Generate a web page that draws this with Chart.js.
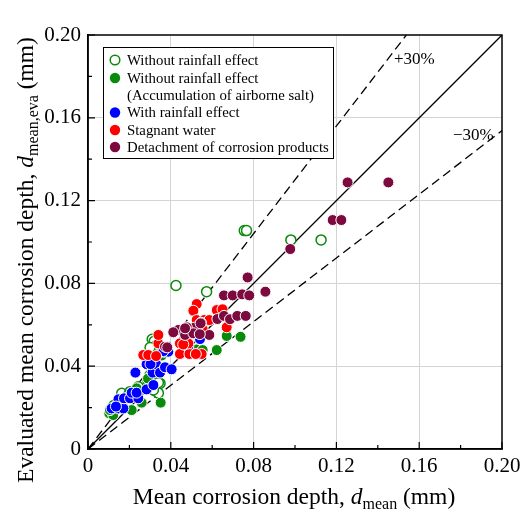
<!DOCTYPE html>
<html>
<head>
<meta charset="utf-8">
<script src="https://cdn.jsdelivr.net/npm/chart.js@4/dist/chart.umd.min.js"></script>
<style>
    html, body { margin: 0; padding: 0; background: #ffffff; }
    #wrap { width: 530px; height: 512px; }
</style>
</head>
<body>
<div id="wrap"><canvas id="chart" width="530" height="512"></canvas></div>
<script>
// ===== DATA =====
const tickValues = [0, 0.04, 0.08, 0.12, 0.16, 0.20];
const tickLabels = ["0", "0.04", "0.08", "0.12", "0.16", "0.20"];
const minorTicks = [0.02, 0.06, 0.10, 0.14, 0.18];

// [d_mean, d_mean,eva]
const withoutRainOpen = [
    [0.0425, 0.079], [0.0573, 0.076], [0.0755, 0.1055], [0.0766, 0.1055],
    [0.098, 0.101], [0.1126, 0.101], [0.031, 0.053], [0.032, 0.052],
    [0.033, 0.050], [0.030, 0.049], [0.0307, 0.0349], [0.0332, 0.0333],
    [0.0348, 0.0317], [0.029, 0.033], [0.034, 0.032], [0.0325, 0.028],
    [0.0163, 0.0269], [0.0203, 0.0277], [0.0243, 0.0301], [0.0195, 0.026],
    [0.030, 0.0357], [0.034, 0.027], [0.0316, 0.0285], [0.0125, 0.021]
];
const withoutRainSalt = [
    [0.0351, 0.0224], [0.0622, 0.0478], [0.067, 0.0546], [0.0737, 0.0542],
    [0.0525, 0.0481], [0.0554, 0.0478], [0.0103, 0.0172], [0.0122, 0.0164],
    [0.0211, 0.0188], [0.0259, 0.0224], [0.0235, 0.0293], [0.0356, 0.0452],
    [0.029, 0.034], [0.0106, 0.0188]
];
const withRain = [
    [0.0114, 0.0196], [0.0147, 0.0196], [0.0171, 0.0196], [0.0147, 0.024],
    [0.0174, 0.0245], [0.0203, 0.0245], [0.0243, 0.0245], [0.0211, 0.0272],
    [0.0235, 0.0272], [0.0283, 0.0288], [0.0316, 0.0309], [0.0229, 0.0369],
    [0.0283, 0.041], [0.0312, 0.0369], [0.0329, 0.041], [0.0348, 0.0369],
    [0.0372, 0.0395], [0.0404, 0.0385], [0.0302, 0.041], [0.0367, 0.047],
    [0.0388, 0.047], [0.0533, 0.0543], [0.0485, 0.0498], [0.0444, 0.051],
    [0.0541, 0.0531], [0.0364, 0.0473], [0.0453, 0.0518], [0.0135, 0.0205]
];
const stagnantWater = [
    [0.0525, 0.070], [0.0509, 0.0668], [0.0622, 0.0671], [0.065, 0.0675],
    [0.0525, 0.0623], [0.0561, 0.0623], [0.0586, 0.0623], [0.0444, 0.051],
    [0.034, 0.051], [0.0444, 0.0459], [0.049, 0.0459], [0.0549, 0.0459],
    [0.0267, 0.0454], [0.0291, 0.0454], [0.0485, 0.051], [0.067, 0.0588],
    [0.046, 0.0505], [0.034, 0.0551], [0.0329, 0.0449], [0.0521, 0.0459],
    [0.0512, 0.0578], [0.0554, 0.0578]
];
const detachment = [
    [0.1254, 0.1288], [0.1451, 0.1288], [0.1182, 0.1106], [0.1224, 0.1106],
    [0.0977, 0.0966], [0.0771, 0.0829], [0.0857, 0.076], [0.0657, 0.0742],
    [0.0699, 0.0742], [0.0745, 0.0747], [0.0779, 0.0742], [0.0625, 0.0628],
    [0.0657, 0.0643], [0.0686, 0.0627], [0.0721, 0.0643], [0.0762, 0.0643],
    [0.0546, 0.061], [0.0514, 0.0586], [0.0477, 0.0588], [0.0436, 0.0575],
    [0.0412, 0.0564], [0.0469, 0.0551], [0.0509, 0.0559], [0.0586, 0.0551],
    [0.054, 0.0555], [0.0372, 0.0494], [0.0383, 0.0491], [0.0469, 0.0583],
    [0.0544, 0.0607]
];

// reference lines: 1:1, +30%, -30%
const lineOneToOne = [[0, 0], [0.20, 0.20]];
const linePlus30 = [[0, 0], [0.1538, 0.20]];
const lineMinus30 = [[0, 0], [0.20, 0.1538]];

const GREEN = "#0a8a0a";
const BLUE = "#0000ff";
const RED = "#ff0000";
const MAROON = "#7d0a3e";
const SERIF = "'Liberation Serif', 'DejaVu Serif', serif";

const toXY = arr => arr.map(p => ({ x: p[0], y: p[1] }));

function scatterSet(label, data, color, order, open) {
    return {
        type: "scatter",
        label: label,
        data: toXY(data),
        order: order,
        pointRadius: open ? 5 : 5.5,
        pointBackgroundColor: open ? "#ffffff" : color,
        pointBorderColor: open ? color : "#ffffff",
        pointBorderWidth: open ? 1.5 : 1
    };
}

function refLine(data, dashed) {
    return {
        type: "line",
        data: toXY(data),
        order: 10,
        borderColor: "#000000",
        borderWidth: 1.3,
        borderDash: dashed ? [9, 5] : [],
        pointRadius: 0,
        fill: false
    };
}

/* ===== LEGEND + TEXT + TICKS PLUGIN ===== */
const legendRows = [
    { text: "Without rainfall effect", color: GREEN, open: true },
    { text: "Without rainfall effect", color: GREEN, open: false },
    { text: "(Accumulation of airborne salt)", color: null },
    { text: "With rainfall effect", color: BLUE, open: false },
    { text: "Stagnant water", color: RED, open: false },
    { text: "Detachment of corrosion products", color: MAROON, open: false }
];

function drawRich(ctx, parts) {
    let total = 0;
    parts.forEach(p => { ctx.font = p.font; p.w = ctx.measureText(p.text).width; total += p.w; });
    let x = -total / 2;
    parts.forEach(p => {
        ctx.font = p.font;
        ctx.fillText(p.text, x, p.dy || 0);
        x += p.w;
    });
}

const decorPlugin = {
    id: "decor",
    afterDraw(chart) {
        const ctx = chart.ctx;
        const a = chart.chartArea;
        const xs = chart.scales.x, ys = chart.scales.y;
        ctx.save();

        // frame
        ctx.strokeStyle = "#000";
        ctx.lineWidth = 1.5;
        ctx.strokeRect(a.left, a.top, a.right - a.left, a.bottom - a.top);

        // inward ticks
        ctx.lineWidth = 1.2;
        ctx.beginPath();
        tickValues.concat(minorTicks).forEach(v => {
            const len = tickValues.includes(v) ? 7 : 4;
            const px = xs.getPixelForValue(v);
            ctx.moveTo(px, a.bottom); ctx.lineTo(px, a.bottom - len);
            const py = ys.getPixelForValue(v);
            ctx.moveTo(a.left, py); ctx.lineTo(a.left + len, py);
        });
        ctx.stroke();

        // +/-30% labels
        ctx.fillStyle = "#000";
        ctx.textBaseline = "middle";
        ctx.textAlign = "left";
        ctx.font = "17px " + SERIF;
        ctx.fillText("+30%", 394, 60);
        ctx.fillText("\u221230%", 453, 136);

        // legend box
        ctx.fillStyle = "#fff";
        ctx.fillRect(103, 47, 230, 111);
        ctx.strokeStyle = "#000";
        ctx.lineWidth = 1;
        ctx.strokeRect(103.5, 47.5, 230, 111);
        ctx.font = "14.8px " + SERIF;
        const rowY = [60, 78, 95.5, 112.5, 130, 147];
        legendRows.forEach((r, i) => {
            const y = rowY[i];
            if (r.color) {
                ctx.beginPath();
                ctx.arc(115, y, r.open ? 4.8 : 5.2, 0, Math.PI * 2);
                if (r.open) {
                    ctx.strokeStyle = r.color; ctx.lineWidth = 1.5; ctx.stroke();
                } else {
                    ctx.fillStyle = r.color; ctx.fill();
                }
            }
            ctx.fillStyle = "#000";
            ctx.fillText(r.text, 127, y + 1);
        });

        // axis titles with italic symbols and subscripts
        ctx.fillStyle = "#000";
        ctx.textAlign = "left";
        ctx.textBaseline = "alphabetic";
        const big = "23.5px " + SERIF, it = "italic 23.5px " + SERIF, sub = "16px " + SERIF;
        ctx.save();
        ctx.translate(294, 504);
        drawRich(ctx, [
            { text: "Mean corrosion depth, ", font: big },
            { text: "d", font: it },
            { text: "mean", font: sub, dy: 5 },
            { text: " (mm)", font: big }
        ]);
        ctx.restore();

        ctx.save();
        ctx.translate(33, 260);
        ctx.rotate(-Math.PI / 2);
        drawRich(ctx, [
            { text: "Evaluated mean corrosion depth, ", font: big },
            { text: "d", font: it },
            { text: "mean,eva", font: sub, dy: 5 },
            { text: " (mm)", font: big }
        ]);
        ctx.restore();

        ctx.restore();
    }
};

function axis(pos) {
    return {
        type: "linear",
        position: pos,
        min: 0,
        max: 0.20,
        afterBuildTicks: s => { s.ticks = tickValues.map(v => ({ value: v })); },
        afterFit: s => {
            if (pos === "left") s.width = 88;
            else s.height = 63;
        },
        ticks: {
            callback: (v, i) => tickLabels[i],
            color: "#000",
            font: { family: SERIF, size: 21 },
            padding: pos === "left" ? 7 : 5,
            autoSkip: false,
            maxRotation: 0
        },
        grid: {
            drawTicks: false,
            color: c => (c.tick && (c.tick.value === 0 || c.tick.value === 0.20)) ? "rgba(0,0,0,0)" : "#d4d4d4",
            lineWidth: 1
        },
        border: { display: true, color: "#000", width: 1.5 }
    };
}

new Chart(document.getElementById("chart").getContext("2d"), {
    type: "scatter",
    data: {
        datasets: [
            scatterSet("Detachment of corrosion products", detachment, MAROON, 1, false),
            scatterSet("Stagnant water", stagnantWater, RED, 2, false),
            scatterSet("With rainfall effect", withRain, BLUE, 3, false),
            scatterSet("Without rainfall effect (Accumulation of airborne salt)", withoutRainSalt, GREEN, 4, false),
            scatterSet("Without rainfall effect", withoutRainOpen, GREEN, 5, true),
            refLine(lineOneToOne, false),
            refLine(linePlus30, true),
            refLine(lineMinus30, true)
        ]
    },
    options: {
        responsive: false,
        animation: false,
        layout: { padding: { left: 0, top: 35, right: 28, bottom: 0 } },
        plugins: {
            legend: { display: false },
            tooltip: { enabled: false }
        },
        scales: {
            x: axis("bottom"),
            y: axis("left")
        }
    },
    plugins: [decorPlugin]
});
</script>
</body>
</html>
